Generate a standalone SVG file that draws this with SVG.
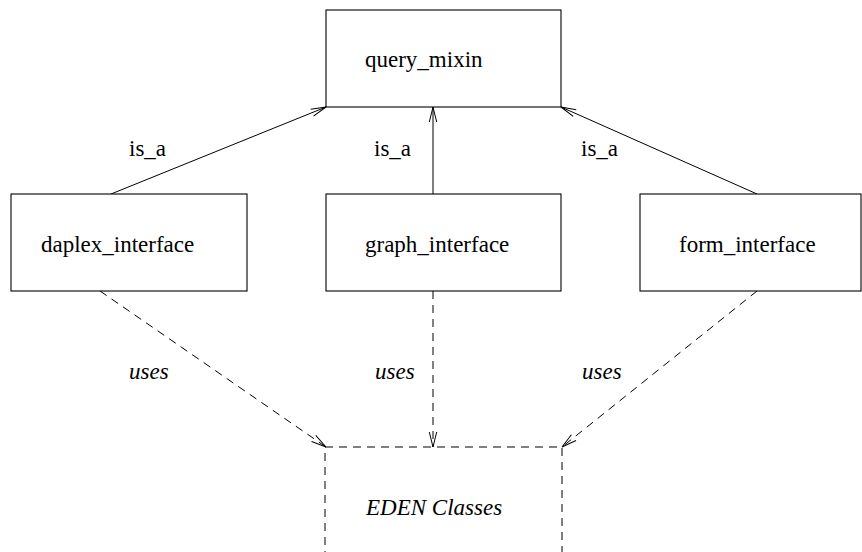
<svg xmlns="http://www.w3.org/2000/svg" width="862" height="552" viewBox="0 0 862 552">
<style>
.box{fill:#fff;stroke:#000;stroke-width:1.1}
.dbox{fill:none;stroke:#000;stroke-width:1;stroke-dasharray:8 6}
.t{font-family:"Liberation Serif","Times New Roman",serif;font-size:23px;fill:#000}
.i{font-style:italic}
.solid{fill:none;stroke:#000;stroke-width:1;marker-end:url(#arr)}
.dash{fill:none;stroke:#000;stroke-width:1;stroke-dasharray:8 6;marker-end:url(#arr)}
</style>
<defs>
<marker id="arr" markerUnits="userSpaceOnUse" markerWidth="20" markerHeight="12" refX="15" refY="6" orient="auto" overflow="visible">
<path d="M0,2.3 L15,6 L0,9.7" fill="none" stroke="#000" stroke-width="1" stroke-dasharray="none"/>
</marker>
</defs>
<rect width="862" height="552" fill="#fff"/>
<g id="connectors">
<line class="solid" x1="111" y1="194" x2="326" y2="107"/>
<line class="solid" x1="433" y1="194" x2="433" y2="107"/>
<line class="solid" x1="757" y1="194" x2="561" y2="107"/>
<line class="dash" x1="100" y1="291" x2="326" y2="447"/>
<line class="dash" x1="433" y1="291" x2="433" y2="447"/>
<line class="dash" x1="757" y1="291" x2="562" y2="447"/>
<text class="t" x="129" y="156">is_a</text>
<text class="t" x="374" y="156">is_a</text>
<text class="t" x="581" y="156">is_a</text>
<text class="t i" x="129" y="379">uses</text>
<text class="t i" x="375" y="379">uses</text>
<text class="t i" x="582" y="379">uses</text>
</g>
<g id="query_mixin">
<rect class="box" x="326" y="10" width="235" height="97"/>
<text class="t" x="365" y="67">query_mixin</text>
</g>
<g id="daplex_interface">
<rect class="box" x="11" y="194" width="236" height="97"/>
<text class="t" x="41" y="252">daplex_interface</text>
</g>
<g id="graph_interface">
<rect class="box" x="326" y="194" width="235" height="97"/>
<text class="t" x="365" y="252">graph_interface</text>
</g>
<g id="form_interface">
<rect class="box" x="640" y="194" width="221" height="97"/>
<text class="t" x="679" y="252">form_interface</text>
</g>
<g id="eden_classes">
<rect class="dbox" x="325" y="447" width="237" height="120"/>
<text class="t i" x="366" y="515">EDEN Classes</text>
</g>
</svg>
